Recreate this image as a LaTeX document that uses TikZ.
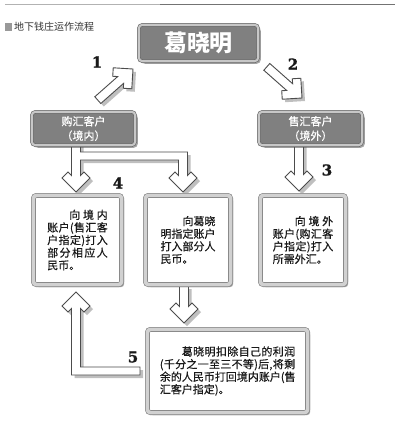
\documentclass[tikz,border=0pt]{standalone}
\usepackage{fontspec}
\setmainfont{Noto Sans CJK SC}
\newfontfamily\boxfont[FakeBold=0.5]{Noto Sans CJK SC}
\newfontfamily\numfont[FakeBold=1.2]{DejaVu Serif}
\usetikzlibrary{shadows}
\def\jfirst#1{#1\jrest}
\def\jrest#1{\ifx#1\relax\else\hskip0pt plus1fil\relax#1\expandafter\jrest\fi}
\newcommand\jl[2]{\makebox[#1][s]{\jfirst#2\relax}}
\newcommand\jli[2]{\makebox[#1][s]{\hspace*{2em}\jfirst#2\relax}}
% block arrow: tip x, tip y, rotation, length
\newcommand\BArrow[4]{%
  \begin{scope}[shift={(#1+3,#2+3)},rotate=#3]
    \fill[shadowsty] (0,0) -- (-14,-14) -- (-8,-20) -- (-4.5,-16.5) -- (-4.5,-#4) -- (4.5,-#4) -- (4.5,-16.5) -- (8,-20) -- (14,-14) -- cycle;
  \end{scope}
  \begin{scope}[shift={(#1,#2)},rotate=#3]
    \filldraw[arrowsty] (0,0) -- (-14,-14) -- (-8,-20) -- (-4.5,-16.5) -- (-4.5,-#4) -- (4.5,-#4) -- (4.5,-16.5) -- (8,-20) -- (14,-14) -- cycle;
  \end{scope}}
\tikzset{
  graybox/.style={draw=black!62, line width=0.6pt, double=black!22, double distance=2.2pt,
    fill=black!50, rounded corners=4pt, text=white, inner sep=0pt,
    drop shadow={shadow xshift=2.5pt,shadow yshift=-2.5pt,opacity=.5,fill=black!70}},
  whitebox/.style={draw=black!50, line width=0.6pt, double=black!18, double distance=3.6pt,
    fill=white, rounded corners=3pt, text=black!90, inner sep=0pt, align=left,
    font=\boxfont\fontsize{11}{12.6}\selectfont,
    drop shadow={shadow xshift=2.5pt,shadow yshift=-2.5pt,opacity=.5,fill=black!70}},
  arrowsty/.style={fill=white, draw=black!70, line width=0.9pt, line join=miter},
  shadowsty/.style={fill=black!55, opacity=.45},
  numsty/.style={font=\numfont\bfseries\fontsize{15}{15}\selectfont, text=black!90, inner sep=0pt}
}
\begin{document}
\begin{tikzpicture}[x=1pt,y=-1pt]
\useasboundingbox (0,0) rectangle (400,432);
\fill[white] (0,0) rectangle (400,432);
% top rule and title
\draw[black!30, line width=0.8pt] (5,4) -- (160,4);
\draw[black!55, line width=0.8pt] (160,4) -- (395,4);
\fill[black!40] (5,23) rectangle (12,31);
\node[anchor=west, inner sep=0pt, text=black!80, font=\fontsize{10}{12}\selectfont] (title) at (14,27) {地下钱庄运作流程};

% arrows 1, 2, 3 and bottom
\BArrow{133}{69}{131.5}{47}
\BArrow{302}{98}{48.5}{47}
\BArrow{299}{191}{0}{47}
\BArrow{184}{323}{0}{37}

% bracket arrow (4)
\begin{scope}[shift={(3,3)}]
\fill[shadowsty] (71.5,144) -- (71.5,175.5) -- (68,172) -- (62,178) -- (76,192) -- (90,178) -- (84,172) -- (80.5,175.5) -- (80.5,160) -- (178.5,160) -- (178.5,175.5) -- (175,172) -- (169,178) -- (183,192) -- (197,178) -- (191,172) -- (187.5,175.5) -- (187.5,152) -- (80.5,152) -- (80.5,144) -- cycle;
\end{scope}
\filldraw[arrowsty] (71.5,144) -- (71.5,175.5) -- (68,172) -- (62,178) -- (76,192) -- (90,178) -- (84,172) -- (80.5,175.5) -- (80.5,160) -- (178.5,160) -- (178.5,175.5) -- (175,172) -- (169,178) -- (183,192) -- (197,178) -- (191,172) -- (187.5,175.5) -- (187.5,152) -- (80.5,152) -- (80.5,144) -- cycle;

% L-shaped up arrow (5)
\begin{scope}[shift={(3,3)}]
\fill[shadowsty] (140,367) -- (80.5,367) -- (80.5,308.5) -- (84,312) -- (90,306) -- (76,292) -- (62,306) -- (68,312) -- (71.5,308.5) -- (71.5,375) -- (140,375) -- cycle;
\end{scope}
\filldraw[arrowsty] (140,367) -- (80.5,367) -- (80.5,308.5) -- (84,312) -- (90,306) -- (76,292) -- (62,306) -- (68,312) -- (71.5,308.5) -- (71.5,375) -- (140,375) -- cycle;

% gray boxes
\node[graybox, minimum width=119.6, minimum height=36.6, font=\bfseries\fontsize{23}{23}\selectfont] (ge) at (198.5,43) {葛晓明};
\node[graybox, minimum width=103.6, minimum height=33.6, align=center, font=\boxfont\fontsize{11}{14.5}\selectfont] (buy) at (83.5,128.5) {购汇客户\\（境内）};
\node[graybox, minimum width=103.6, minimum height=33.6, align=center, font=\boxfont\fontsize{11}{14.5}\selectfont] (sell) at (310.5,128.5) {售汇客户\\（境外）};

% white boxes
\node[whitebox, minimum width=88.2, minimum height=89.2] (a) at (77.5,240) {%
\jli{5.5em}{向境内}\\\jl{5.5em}{账户(售汇客}\\\jl{5.5em}{户指定)打入}\\\jl{5.5em}{部分相应人}\\民币。};
\node[whitebox, minimum width=85.2, minimum height=89.2] (b) at (188,240) {%
\jli{5em}{向葛晓}\\\jl{5em}{明指定账户}\\\jl{5em}{打入部分人}\\民币。};
\node[whitebox, minimum width=85.2, minimum height=89.2] (c) at (303,240) {%
\jli{5.5em}{向境外}\\\jl{5.5em}{账户(购汇客}\\\jl{5.5em}{户指定)打入}\\所需外汇。};
\node[whitebox, minimum width=160.2, minimum height=83.2] (d) at (227.5,371) {%
\jli{12.3em}{葛晓明扣除自己的利润}\\\jl{12.3em}{(千分之一至三不等)后,将剩}\\\jl{12.3em}{余的人民币打回境内账户(售}\\汇客户指定)。};

% step numbers
\node[numsty] (n1) at (97,62) {1};
\node[numsty] (n2) at (293,64) {2};
\node[numsty] (n3) at (327,170) {3};
\node[numsty] (n4) at (118,183) {4};
\node[numsty] (n5) at (133,357) {5};
\end{tikzpicture}
\end{document}
